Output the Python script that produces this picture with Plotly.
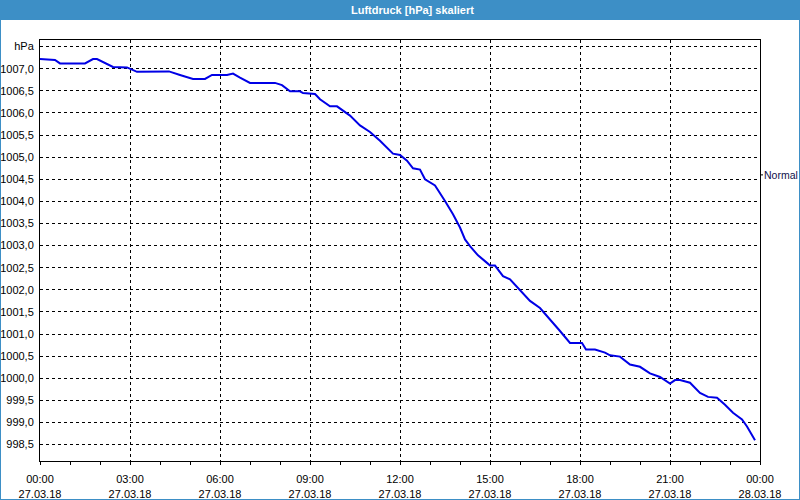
import plotly.graph_objects as go

# ---- data ----
times = ["00:00","00:30","00:40","01:30","01:46","01:54","02:26","02:54","03:14","04:12",
         "04:18","04:40","05:06","05:30","05:44","06:14","06:26","06:40","07:00","07:50",
         "08:04","08:20","08:40","08:46","09:10","09:20","09:40","09:54","10:20","10:40",
         "11:00","11:20","11:34","11:46","12:00","12:14","12:26","12:40","12:50","13:10",
         "13:30","13:46","14:00","14:10","14:20","14:36","14:54","15:00","15:10","15:26",
         "15:40","16:00","16:20","16:40","17:00","17:20","17:40","18:04","18:12","18:30",
         "18:50","19:00","19:20","19:40","20:00","20:20","20:40","21:00","21:10","21:20",
         "21:40","22:00","22:16","22:34","22:50","23:06","23:24","23:34","23:50"]
pressure = [1007.22,1007.20,1007.12,1007.12,1007.22,1007.22,1007.04,1007.03,1006.93,1006.93,
            1006.94,1006.86,1006.77,1006.77,1006.86,1006.86,1006.89,1006.80,1006.68,1006.68,
            1006.63,1006.49,1006.49,1006.45,1006.43,1006.31,1006.15,1006.15,1005.94,1005.72,
            1005.57,1005.37,1005.22,1005.08,1005.05,1004.92,1004.75,1004.72,1004.50,1004.36,
            1004.01,1003.71,1003.41,1003.14,1002.99,1002.78,1002.61,1002.55,1002.55,1002.31,
            1002.24,1002.00,1001.75,1001.59,1001.34,1001.07,1000.80,1000.80,1000.65,1000.65,
            1000.58,1000.52,1000.49,1000.31,1000.26,1000.11,1000.03,999.88,999.96,999.96,
            999.90,999.67,999.58,999.56,999.40,999.22,999.07,998.91,998.60]

y_tickvals = [998.5 + 0.5 * i for i in range(19)]
y_ticktext = ["998,5","999,0","999,5","1000,0","1000,5","1001,0","1001,5","1002,0","1002,5",
              "1003,0","1003,5","1004,0","1004,5","1005,0","1005,5","1006,0","1006,5","1007,0","hPa"]
x_tickvals = ["2018-03-27 00:00","2018-03-27 03:00","2018-03-27 06:00","2018-03-27 09:00",
              "2018-03-27 12:00","2018-03-27 15:00","2018-03-27 18:00","2018-03-27 21:00",
              "2018-03-28 00:00"]
x_ticktext = ["00:00<br>27.03.18","03:00<br>27.03.18","06:00<br>27.03.18","09:00<br>27.03.18",
              "12:00<br>27.03.18","15:00<br>27.03.18","18:00<br>27.03.18","21:00<br>27.03.18",
              "00:00<br>28.03.18"]
title = "Luftdruck [hPa] skaliert"
normal_label = "Normal"
normal_value = 1004.6

x = ["2018-03-27 " + t for t in times]

W, H = 800, 500
L, R, T, B = 40, 40, 40, 39
pw, ph = W - L - R, H - T - B
def px(v): return (v - L) / pw
def py(v): return (H - B - v) / ph

BLUE = "#3d8fc6"
FONT = "Liberation Sans"

fig = go.Figure()
fig.add_trace(go.Scatter(x=x, y=pressure, mode="lines",
                         line=dict(color="#0000e6", width=2), showlegend=False,
                         hoverinfo="skip"))

fig.update_layout(
    width=W, height=H,
    margin=dict(l=L, r=R, t=T, b=B, autoexpand=False),
    paper_bgcolor="white", plot_bgcolor="white",
    font=dict(family=FONT, size=11, color="black"),
    showlegend=False,
)
fig.update_xaxes(
    type="date", automargin=False,
    range=["2018-03-27 00:00", "2018-03-28 00:00"],
    tickvals=x_tickvals, ticktext=x_ticktext,
    showline=True, linecolor="black", linewidth=1, mirror=True,
    showgrid=True, gridcolor="black", gridwidth=1, griddash="3px,3px",
    ticks="outside", ticklen=3, tickcolor="black",
    minor=dict(dtick=3600000, ticks="outside", ticklen=3, tickcolor="black", showgrid=False),
    tickfont=dict(family=FONT, size=11, color="black"),
    ticklabelstandoff=5,
    zeroline=False,
)
fig.update_yaxes(
    automargin=False,
    range=[998.13, 1007.65],
    tickvals=y_tickvals, ticktext=y_ticktext,
    showline=True, linecolor="black", linewidth=1, mirror=True,
    showgrid=True, gridcolor="black", gridwidth=1, griddash="3px,3px",
    ticks="", ticklabelstandoff=3,
    tickfont=dict(family=FONT, size=11, color="black"),
    zeroline=False,
)

shapes = [
    dict(type="rect", xref="paper", yref="paper", x0=px(0), x1=px(800), y0=py(20), y1=py(0),
         fillcolor=BLUE, line=dict(width=0), layer="above"),
    dict(type="line", xref="paper", yref="paper", x0=px(0.5), x1=px(0.5), y0=py(20), y1=py(500),
         line=dict(color=BLUE, width=1)),
    dict(type="line", xref="paper", yref="paper", x0=px(799.5), x1=px(799.5), y0=py(20), y1=py(500),
         line=dict(color=BLUE, width=1)),
    dict(type="line", xref="paper", yref="paper", x0=px(0), x1=px(800), y0=py(499.5), y1=py(499.5),
         line=dict(color=BLUE, width=1)),
    dict(type="line", xref="paper", yref="y", x0=1, x1=px(763), y0=normal_value, y1=normal_value,
         line=dict(color="black", width=1)),
]
fig.update_layout(shapes=shapes)

fig.add_annotation(text="<b>" + title + "</b>", xref="paper", yref="paper",
                   x=px(412), y=py(10), showarrow=False, xanchor="center", yanchor="middle",
                   font=dict(family=FONT, size=11, color="white"))
fig.add_annotation(text=normal_label, xref="paper", yref="y", x=px(781), y=normal_value,
                   showarrow=False, xanchor="center", yanchor="middle",
                   font=dict(family=FONT, size=10.5, color="#10104a"))

fig.write_html("out.html")
